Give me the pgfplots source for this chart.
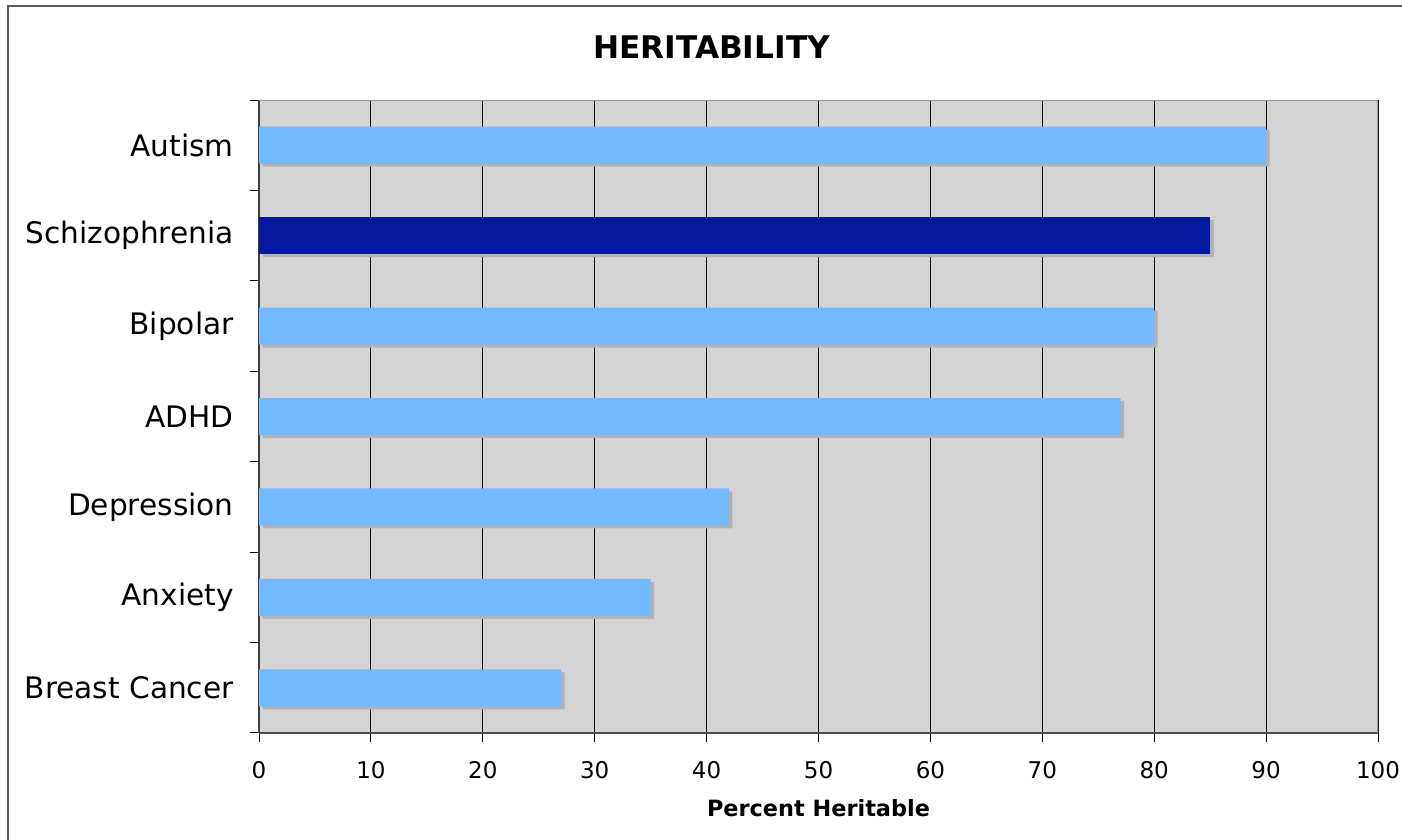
\documentclass[border=0pt]{standalone}
\usepackage{fontspec}
\setmainfont{DejaVu Sans}
\usepackage{pgfplots}
\pgfplotsset{compat=1.18}
\usetikzlibrary{shadows}
\definecolor{barlight}{RGB}{115,185,255}
\definecolor{bardark}{RGB}{3,25,160}
\definecolor{plotbg}{RGB}{212,212,212}
\definecolor{shadowgray}{RGB}{178,178,178}
\definecolor{framegray}{RGB}{90,90,90}

\begin{document}
\begin{tikzpicture}
\useasboundingbox (0,0) rectangle (701pt,420pt);
% outer chart frame
\begin{scope}
  \clip (0,0) rectangle (701pt,420pt);
  \draw[framegray, line width=1pt] (4pt,-20pt) rectangle (720pt,417pt);
\end{scope}
\node[font=\fontsize{15.6}{18}\selectfont\bfseries] at (355.75pt,396.5pt) {HERITABILITY};
\begin{axis}[
  at={(129.5pt,53.5pt)}, anchor=south west,
  scale only axis, width=559.5pt, height=316.5pt,
  xmin=0, xmax=100, ymin=-0.5, ymax=6.5,
  xbar, bar width=18.5pt, bar shift=0pt,
  axis background/.style={fill=plotbg},
  axis x line*=bottom, axis y line*=left,
  x axis line style={draw=black!70, line width=1pt},
  y axis line style={draw=black!75, line width=1pt},
  xtick={0,10,...,100},
  xmajorgrids, major grid style={black, line width=0.5pt},
  ytick={-0.5,0.5,...,6.5}, yticklabels={},
  extra y ticks={0,1,2,3,4,5,6},
  extra y tick labels={Breast Cancer,Anxiety,Depression,ADHD,Bipolar,Schizophrenia,Autism},
  extra y tick style={major tick length=0pt,
    yticklabel style={anchor=east, inner sep=0pt, xshift=-12.5pt,
      font=\fontsize{14.8}{17}\selectfont}},
  tick align=outside, major tick length=4.5pt,
  tick style={black, line width=0.5pt},
  xticklabel style={font=\fontsize{11.5}{13}\selectfont},
  xticklabel shift=6pt,
  /pgf/number format/assume math mode=true,
  xlabel={Percent Heritable},
  xlabel style={font=\fontsize{11.2}{13}\selectfont\bfseries,
    at={(axis description cs:0.5,0)}, anchor=center, yshift=-37.5pt},
]
\addplot[fill=barlight, draw=none,
  drop shadow={shadow xshift=1.75pt, shadow yshift=-1.5pt, fill=shadowgray, opacity=1}]
  coordinates {(27,0) (35,1) (42,2) (77,3) (80,4) (90,6)};
\addplot[fill=bardark, draw=none,
  drop shadow={shadow xshift=1.75pt, shadow yshift=-1.5pt, fill=shadowgray, opacity=1}]
  coordinates {(85,5)};
\draw[black!40, line width=0.75pt] (rel axis cs:0,1) -- (rel axis cs:1,1) -- (rel axis cs:1,0);
\end{axis}
\end{tikzpicture}
\end{document}
